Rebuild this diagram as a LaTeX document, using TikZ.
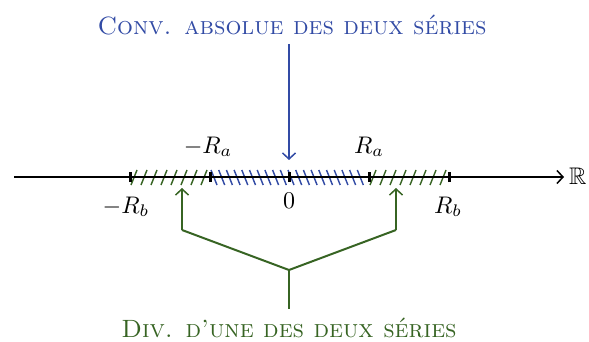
\RequirePackage{fix-cm}
\documentclass[tikz,border=0pt]{standalone}
\usepackage{graphicx}
\usepackage{amssymb}
\usetikzlibrary{arrows.meta}
\definecolor{cblue}{RGB}{50,75,165}
\definecolor{cgreen}{RGB}{55,100,35}
\newcommand{\biglab}[1]{\scalebox{2.4}{$#1$}}
\begin{document}
\begin{tikzpicture}[x=1pt,y=-1pt,
  lbl/.style={inner sep=0pt,font=\normalsize},
  ttl/.style={inner sep=0pt,font=\fontsize{25}{30}\selectfont},
  tickmark/.style={line width=3pt},
  hatchg/.style={cgreen,line width=1.4pt},
  hatchb/.style={cblue,line width=1.4pt},
  tip/.style={-{Straight Barb[length=6pt,width=13pt,line width=1.5pt]}}]
\useasboundingbox (0,0) rectangle (589,342);
% axis
\coordinate (L) at (14,177);
\coordinate (E) at (564,177);
\node[lbl,anchor=west] (RR) at (569,176) {\biglab{\mathbb{R}}};
% hatches
\foreach \x in {134,144,...,206} \draw[hatchg] (\x-3,185) -- (\x+3,170);
\foreach \x in {373,383,...,445} \draw[hatchg] (\x-3,185) -- (\x+3,170);
\foreach \x in {214,221.7,...,366} \draw[hatchb] (\x-3,170) -- (\x+3,185);
\draw[line width=1.4pt,tip] (L) -- (E);
% ticks
\coordinate (mRb) at (130,177);
\coordinate (mRa) at (210,177);
\coordinate (z) at (289,177);
\coordinate (pRa) at (369,177);
\coordinate (pRb) at (449,177);
\foreach \c in {mRb,mRa,z,pRa,pRb} \draw[tickmark] ([yshift=-5]\c) -- ([yshift=5]\c);
% labels
\node[lbl] (lmRa) at (208,147) {\biglab{-R_a}};
\node[lbl] (lpRa) at (369,147) {\biglab{R_a}};
\node[lbl] (lmRb) at (126,207) {\biglab{-R_b}};
\node[lbl] (lz) at (289,201) {\biglab{0}};
\node[lbl] (lpRb) at (448,207) {\biglab{R_b}};
% top
\node[ttl,text=cblue] (top) at (292,25) {\textsc{Conv. absolue des deux séries}};
\draw[cblue,line width=2pt,tip] (289,44) -- (289,160);
% bottom
\node[ttl,text=cgreen] (bot) at (289,328) {\textsc{Div. d'une des deux séries}};
\coordinate (gl) at (182,230);
\coordinate (gr) at (396,230);
\coordinate (gm) at (289,270);
\draw[cgreen,line width=2pt,line join=round] (gl) -- (gm) -- (gr);
\draw[cgreen,line width=2pt] (gm) -- (289,309);
\draw[cgreen,line width=2pt,tip] (gl) -- (182,188);
\draw[cgreen,line width=2pt,tip] (gr) -- (396,188);
\end{tikzpicture}
\end{document}
